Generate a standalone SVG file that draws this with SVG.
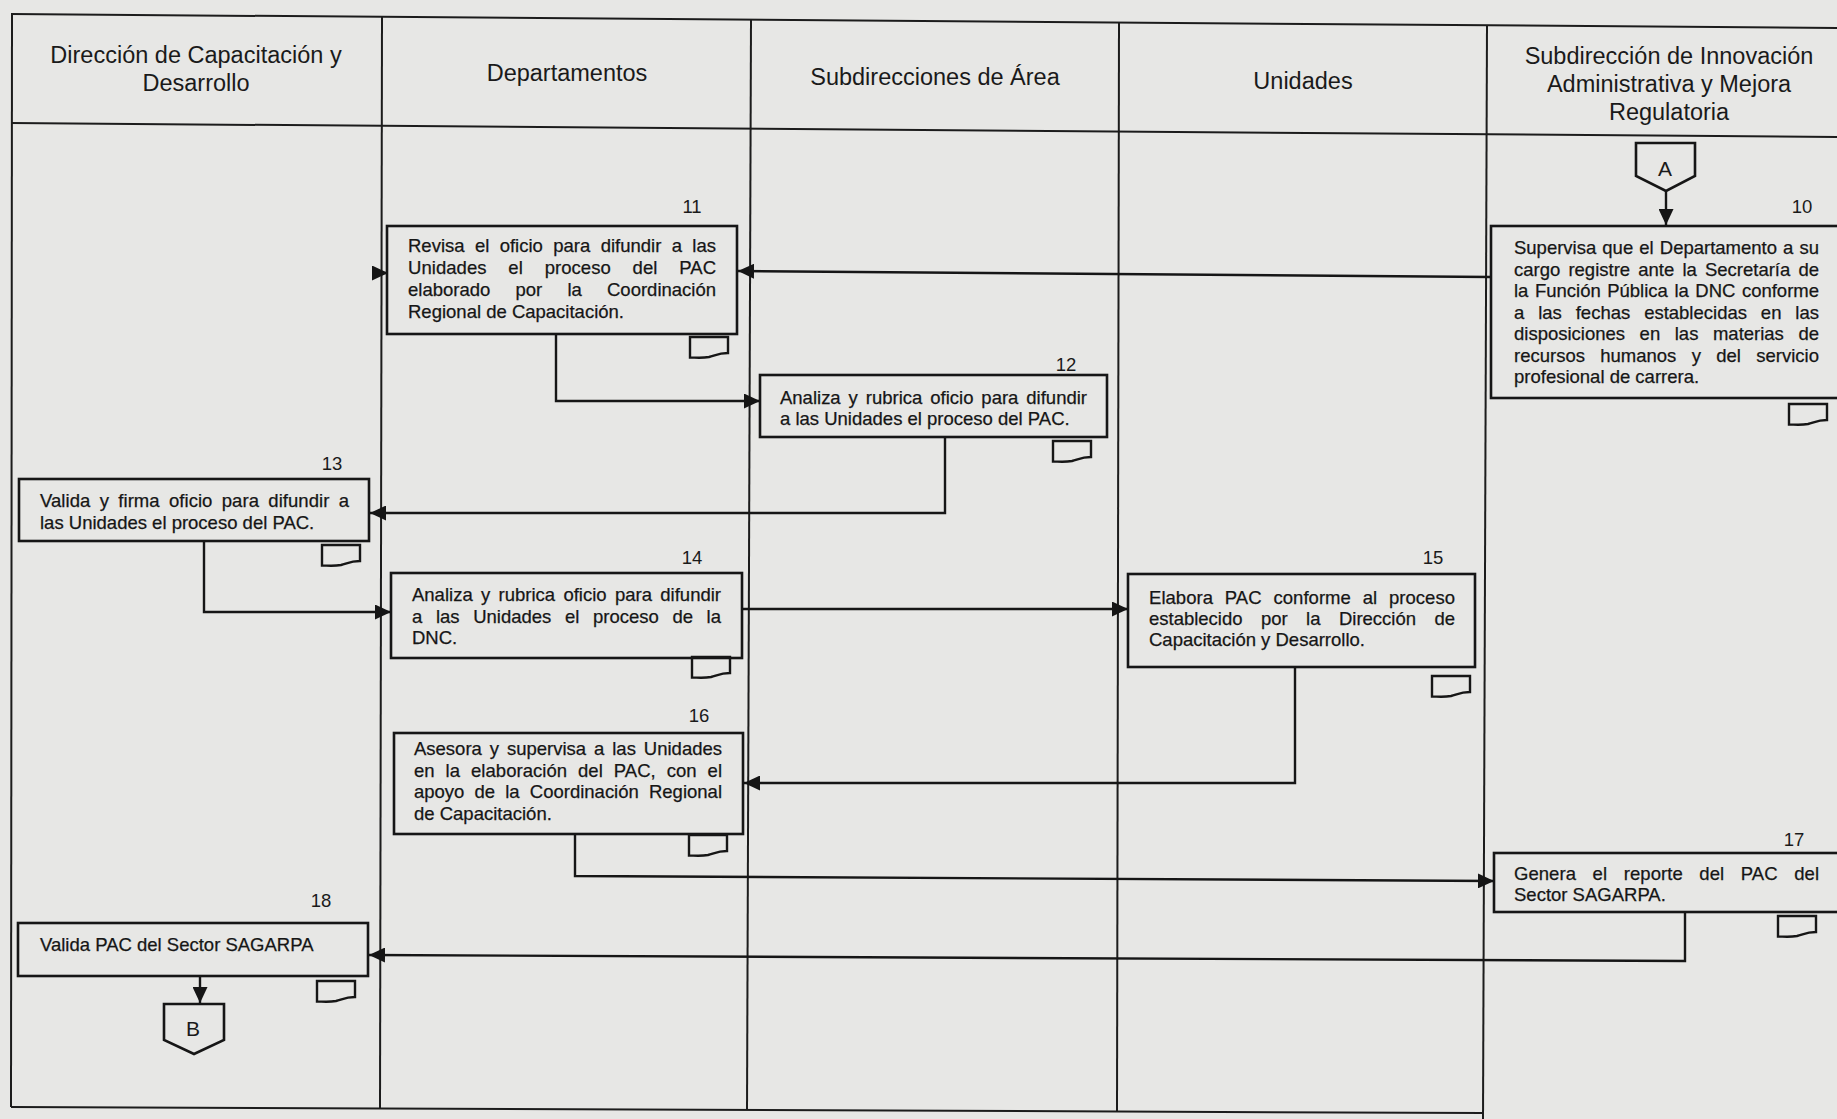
<svg xmlns="http://www.w3.org/2000/svg" width="1837" height="1119" viewBox="0 0 1837 1119">
  <defs>
    <marker id="arrow" markerUnits="userSpaceOnUse" markerWidth="17" markerHeight="15" refX="16" refY="7.5" orient="auto">
      <path d="M0,0 L16,7.5 L0,15 Z" fill="#151515"/>
    </marker>
    <!-- document symbol hung under each activity box -->
    <path id="doc" d="M0,0 H38 V16 C29,16 26,18 19,20 C11,21.5 5,20.5 0,20.5 Z"/>
    <style>
      .grid { stroke: #1c1c1c; stroke-width: 2; fill: none; }
      .box { fill: none; stroke: #161616; stroke-width: 2.6; }
      .docicon { fill: none; stroke: #161616; stroke-width: 2.4; }
      .conn { fill: none; stroke: #161616; stroke-width: 2.4; }
      .hdr { font-family: "Liberation Sans", Arial, sans-serif; font-size: 23.5px; fill: #1a1a1a; text-anchor: middle; }
      .txt { font-family: "Liberation Sans", Arial, sans-serif; font-size: 18.5px; fill: #161616; stroke: #161616; stroke-width: 0.25; }
      .num { font-family: "Liberation Sans", Arial, sans-serif; font-size: 18.5px; fill: #1a1a1a; text-anchor: middle; }
      .conlbl { font-family: "Liberation Sans", Arial, sans-serif; font-size: 21px; fill: #1a1a1a; text-anchor: middle; }
    </style>
  </defs>

  <rect x="0" y="0" width="1837" height="1119" fill="#e7e7e5"/>

  <!-- swimlane table -->
  <g id="lanes" class="grid">
    <line x1="11" y1="14" x2="1837" y2="28"/>
    <line x1="11" y1="123" x2="1837" y2="137"/>
    <line x1="11" y1="1107" x2="1483" y2="1113"/>
    <line x1="12" y1="14" x2="11" y2="1107"/>
    <line x1="382" y1="17" x2="380" y2="1108"/>
    <line x1="751" y1="20" x2="747" y2="1110"/>
    <line x1="1119" y1="22" x2="1117" y2="1112"/>
    <line x1="1487" y1="25" x2="1483" y2="1119"/>
  </g>

  <g id="lane-headers">
    <text class="hdr" x="196" y="63">Dirección de Capacitación y</text>
    <text class="hdr" x="196" y="91">Desarrollo</text>
    <text class="hdr" x="567" y="81">Departamentos</text>
    <text class="hdr" x="935" y="85">Subdirecciones de Área</text>
    <text class="hdr" x="1303" y="89">Unidades</text>
    <text class="hdr" x="1669" y="64">Subdirección de Innovación</text>
    <text class="hdr" x="1669" y="92">Administrativa y Mejora</text>
    <text class="hdr" x="1669" y="120">Regulatoria</text>
  </g>

  <!-- connectors -->
  <g id="connectors" class="conn">
    <path d="M1666,191 V225" marker-end="url(#arrow)"/>
    <path d="M1491,277 L738,271" marker-end="url(#arrow)"/>
    <path d="M372,273 H388" marker-end="url(#arrow)"/>
    <path d="M556,334 V401 H760" marker-end="url(#arrow)"/>
    <path d="M945,437 V513 H370" marker-end="url(#arrow)"/>
    <path d="M204,541 V612 H391" marker-end="url(#arrow)"/>
    <path d="M742,609 H1128" marker-end="url(#arrow)"/>
    <path d="M1295,667 V783 H744" marker-end="url(#arrow)"/>
    <path d="M575,834 V876 L1494,881" marker-end="url(#arrow)"/>
    <path d="M1685,912 V961 L369,955" marker-end="url(#arrow)"/>
    <path d="M200,976 V1003" marker-end="url(#arrow)"/>
  </g>

  <!-- off-page connector A -->
  <g id="node-A">
    <path class="box" d="M1636,143 H1695 V176 L1666,191 L1636,176 Z"/>
    <text class="conlbl" x="1665" y="176">A</text>
  </g>

  <g id="node-10">
    <rect class="box" x="1491" y="226" width="360" height="172"/>
    <text class="num" x="1802" y="213">10</text>
    <text class="txt" y="254">
      <tspan x="1514" word-spacing="0.96" textLength="305" lengthAdjust="spacing">Supervisa que el Departamento a su</tspan>
      <tspan x="1514" y="275.5" word-spacing="3" textLength="305" lengthAdjust="spacing">cargo registre ante la Secretaría de</tspan>
      <tspan x="1514" y="297" word-spacing="1.38" textLength="305" lengthAdjust="spacing">la Función Pública la DNC conforme</tspan>
      <tspan x="1514" y="318.5" word-spacing="8.76" textLength="305" lengthAdjust="spacing">a las fechas establecidas en las</tspan>
      <tspan x="1514" y="340" word-spacing="9.42" textLength="305" lengthAdjust="spacing">disposiciones en las materias de</tspan>
      <tspan x="1514" y="361.5" word-spacing="10.2" textLength="305" lengthAdjust="spacing">recursos humanos y del servicio</tspan>
      <tspan x="1514" y="383">profesional de carrera.</tspan>
    </text>
    <use href="#doc" class="docicon" x="1789" y="404"/>
  </g>

  <g id="node-11">
    <rect class="box" x="387" y="226" width="350" height="108"/>
    <text class="num" x="692" y="213">11</text>
    <text class="txt" y="252">
      <tspan x="408" word-spacing="5.24" textLength="308" lengthAdjust="spacing">Revisa el oficio para difundir a las</tspan>
      <tspan x="408" y="274" word-spacing="16.6" textLength="308" lengthAdjust="spacing">Unidades el proceso del PAC</tspan>
      <tspan x="408" y="296" word-spacing="20.06" textLength="308" lengthAdjust="spacing">elaborado por la Coordinación</tspan>
      <tspan x="408" y="318">Regional de Capacitación.</tspan>
    </text>
    <use href="#doc" class="docicon" x="690" y="337"/>
  </g>

  <g id="node-12">
    <rect class="box" x="760" y="375" width="347" height="62"/>
    <text class="num" x="1066" y="371">12</text>
    <text class="txt" y="404">
      <tspan x="780" word-spacing="2.8" textLength="307" lengthAdjust="spacing">Analiza y rubrica oficio para difundir</tspan>
      <tspan x="780" y="425">a las Unidades el proceso del PAC.</tspan>
    </text>
    <use href="#doc" class="docicon" x="1053" y="441"/>
  </g>

  <g id="node-13">
    <rect class="box" x="19" y="479" width="350" height="62"/>
    <text class="num" x="332" y="470">13</text>
    <text class="txt" y="507">
      <tspan x="40" word-spacing="4.2" textLength="309" lengthAdjust="spacing">Valida y firma oficio para difundir a</tspan>
      <tspan x="40" y="529">las Unidades el proceso del PAC.</tspan>
    </text>
    <use href="#doc" class="docicon" x="322" y="545"/>
  </g>

  <g id="node-14">
    <rect class="box" x="391" y="573" width="351" height="85"/>
    <text class="num" x="692" y="564">14</text>
    <text class="txt" y="601">
      <tspan x="412" word-spacing="3.2" textLength="309" lengthAdjust="spacing">Analiza y rubrica oficio para difundir</tspan>
      <tspan x="412" y="623" word-spacing="8.5" textLength="309" lengthAdjust="spacing">a las Unidades el proceso de la</tspan>
      <tspan x="412" y="644">DNC.</tspan>
    </text>
    <use href="#doc" class="docicon" x="692" y="657"/>
  </g>

  <g id="node-15">
    <rect class="box" x="1128" y="574" width="347" height="93"/>
    <text class="num" x="1433" y="564">15</text>
    <text class="txt" y="604">
      <tspan x="1149" word-spacing="6.6" textLength="306" lengthAdjust="spacing">Elabora PAC conforme al proceso</tspan>
      <tspan x="1149" y="625" word-spacing="13.3" textLength="306" lengthAdjust="spacing">establecido por la Dirección de</tspan>
      <tspan x="1149" y="646">Capacitación y Desarrollo.</tspan>
    </text>
    <use href="#doc" class="docicon" x="1432" y="676"/>
  </g>

  <g id="node-16">
    <rect class="box" x="394" y="733" width="349" height="101"/>
    <text class="num" x="699" y="722">16</text>
    <text class="txt" y="755">
      <tspan x="414" word-spacing="2.8" textLength="308" lengthAdjust="spacing">Asesora y supervisa a las Unidades</tspan>
      <tspan x="414" y="776.5" word-spacing="5.74" textLength="308" lengthAdjust="spacing">en la elaboración del PAC, con el</tspan>
      <tspan x="414" y="798" word-spacing="5" textLength="308" lengthAdjust="spacing">apoyo de la Coordinación Regional</tspan>
      <tspan x="414" y="819.5">de Capacitación.</tspan>
    </text>
    <use href="#doc" class="docicon" x="689" y="835"/>
  </g>

  <g id="node-17">
    <rect class="box" x="1494" y="853" width="360" height="59"/>
    <text class="num" x="1794" y="846">17</text>
    <text class="txt" y="880">
      <tspan x="1514" word-spacing="11.4" textLength="305" lengthAdjust="spacing">Genera el reporte del PAC del</tspan>
      <tspan x="1514" y="901">Sector SAGARPA.</tspan>
    </text>
    <use href="#doc" class="docicon" x="1778" y="916"/>
  </g>

  <g id="node-18">
    <rect class="box" x="18" y="923" width="350" height="53"/>
    <text class="num" x="321" y="907">18</text>
    <text class="txt" x="40" y="951">Valida PAC del Sector SAGARPA</text>
    <use href="#doc" class="docicon" x="317" y="981"/>
  </g>

  <!-- off-page connector B -->
  <g id="node-B">
    <path class="box" d="M164,1004 H224 V1040 L194,1054 L164,1040 Z"/>
    <text class="conlbl" x="193" y="1036">B</text>
  </g>
</svg>
